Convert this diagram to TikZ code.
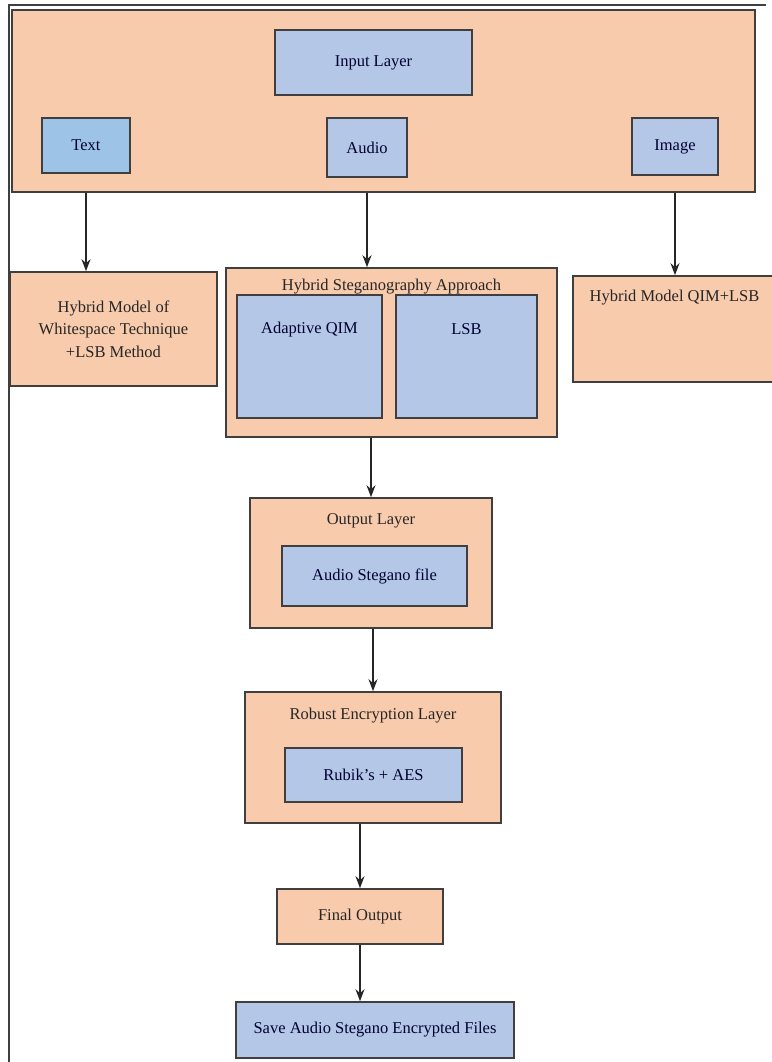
\documentclass[tikz,border=0pt]{standalone}
\usepackage{fontspec}
\setmainfont{Liberation Serif}
\usetikzlibrary{arrows.meta,positioning}
\definecolor{peach}{HTML}{F8CBAD}
\definecolor{lightblue}{HTML}{B4C7E7}
\definecolor{textblue}{HTML}{9DC3E6}
\definecolor{edgegray}{HTML}{3F3F3F}

\begin{document}
\begin{tikzpicture}
  [x=1pt, y=-1pt, >={Stealth[length=12pt,width=9pt]},
  layer/.style={rectangle, draw=edgegray, fill=peach, line width=1.6pt,
    inner sep=2pt, font=\fontsize{16.5}{22.5}\selectfont, text=black!85},
  block/.style={rectangle, draw=edgegray, fill=lightblue, line width=1.6pt,
    inner sep=2pt, font=\fontsize{16.5}{22.5}\selectfont, text=black!80!blue},
  every label/.style={font=\fontsize{16.5}{22.5}\selectfont, text=black!85},
  flow/.style={->, line width=1.5pt, draw=black!85}]

  \useasboundingbox (0,0) rectangle (771,1062);
  \draw[line width=1.6pt, edgegray] (9,1062) -- (9,5) -- (766,5);

  % input layer
  \node[layer, minimum width=743pt, minimum height=182pt] (inputframe) at (383.5,101) {};
  \node[block, minimum width=197pt, minimum height=65pt] (inputlayer) at (373.5,62.5) {Input Layer};
  \node[block, fill=textblue, minimum width=88pt, minimum height=55pt] (text) at (86,145.5) {Text};
  \node[block, minimum width=80pt, minimum height=59pt] (audio) at (367,147.5) {Audio};
  \node[block, minimum width=86pt, minimum height=57pt] (image) at (675,146.5) {Image};

  % hybrid models
  \node[layer, minimum width=207pt, minimum height=114pt, align=center] (hybridtext) at (113.5,329)
    {Hybrid Model of\\Whitespace Technique\\+LSB Method};
  \node[layer, minimum width=331pt, minimum height=169pt,
    label={[anchor=center, yshift=-19pt]north:Hybrid Steganography Approach}] (hybridsteg) at (391.5,352.5) {};
  \node[block, minimum width=145pt, minimum height=123pt,
    label={[anchor=center, yshift=-35pt, text=black!80!blue]north:Adaptive QIM}] (aqim) at (309.5,356.5) {};
  \node[block, minimum width=141pt, minimum height=123pt,
    label={[anchor=center, yshift=-35pt, text=black!80!blue]north:LSB}] (lsb) at (466.5,356.5) {};
  \node[layer, minimum width=203pt, minimum height=106pt,
    label={[anchor=center, yshift=-22pt]north:Hybrid Model QIM+LSB}] (hybridimage) at (674.5,329) {};

  % output and encryption
  \node[layer, minimum width=242pt, minimum height=130pt,
    label={[anchor=center, yshift=-24pt]north:Output Layer}] (outputlayer) at (371,563) {};
  \node[block, minimum width=185pt, minimum height=60pt] (stegofile) at (374.5,576) {Audio Stegano file};
  \node[layer, minimum width=256pt, minimum height=131pt,
    label={[anchor=center, yshift=-24pt]north:Robust Encryption Layer}] (robust) at (373,757.5) {};
  \node[block, minimum width=177pt, minimum height=54pt] (rubik) at (373.5,775) {Rubik's + AES};
  \node[layer, minimum width=166pt, minimum height=55pt] (final) at (360,916.5) {Final Output};
  \node[block, minimum width=278pt, minimum height=56pt] (save) at (375,1030) {Save Audio Stegano Encrypted Files};

  \draw[flow] (text |- inputframe.south) -- (text |- hybridtext.north);
  \draw[flow] (audio |- inputframe.south) -- (audio |- hybridsteg.north);
  \draw[flow] (image |- inputframe.south) -- (image |- hybridimage.north);
  \draw[flow] (outputlayer.north |- hybridsteg.south) -- (outputlayer.north);
  \draw[flow] (robust.north |- outputlayer.south) -- (robust.north);
  \draw[flow] (final.north |- robust.south) -- (final.north);
  \draw[flow] (final.south) -- (final.south |- save.north);

\end{tikzpicture}
\end{document}
